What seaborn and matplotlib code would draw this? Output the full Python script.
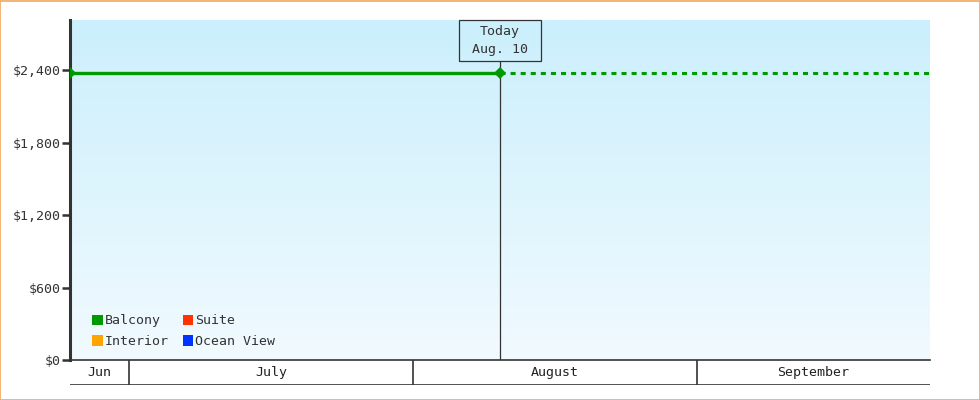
"""
Cabin price tracker: Balcony price up to today, flat projection after
"""
import numpy as np
import pandas as pd
import matplotlib
matplotlib.use('Agg')
import matplotlib.pyplot as plt
from matplotlib.patches import Patch, Rectangle
import seaborn as sns

# Data
price_dates = ['2024-06-24 12:00', '2024-08-10 12:00']
balcony_price = [2375, 2375]
projection_dates = ['2024-08-10 12:00', '2024-09-26 12:00']
projection_price = [2375, 2375]
today = '2024-08-10 12:00'
today_label = 'Today\nAug. 10'
y_ticks = [0, 600, 1200, 1800, 2400]
y_tick_labels = ['$0', '$600', '$1,200', '$1,800', '$2,400']
legend_names = ['Balcony', 'Interior', 'Suite', 'Ocean View']
legend_colors = ['#009900', '#ffa500', '#ff3300', '#0033ff']
month_starts = ['2024-07-01', '2024-08-01', '2024-09-01']
month_names = ['Jun', 'July', 'August', 'September']
x_start, x_end = '2024-06-24 12:00', '2024-09-26 12:00'

sns.set_style('white')
plt.rcParams['font.family'] = ['DejaVu Sans Mono']
plt.rcParams['font.size'] = 9.5

hist = pd.DataFrame({'date': pd.to_datetime(price_dates), 'price': balcony_price})
proj = pd.DataFrame({'date': pd.to_datetime(projection_dates), 'price': projection_price})

fig = plt.figure(figsize=(9.8, 4), dpi=100)
fig.patches.append(Rectangle((0.0005, 0.001), 0.999, 0.997, transform=fig.transFigure,
                             fill=False, edgecolor='#f0a860', linewidth=1.2))
ax = fig.add_axes([70 / 980, 40 / 400, 860 / 980, 340 / 400])

# gradient background
grad = np.linspace(0, 1, 256).reshape(-1, 1)
cmap = matplotlib.colors.LinearSegmentedColormap.from_list('bg', ['#cbeffc', '#f1faff'])
ax.imshow(grad, extent=[0, 1, 0, 1], transform=ax.transAxes, aspect='auto',
          cmap=cmap, zorder=0)

sns.lineplot(data=hist, x='date', y='price', ax=ax, color='#009900', linewidth=2.4,
             marker='D', markersize=6.5, markeredgewidth=0, zorder=3)
sns.lineplot(data=proj, x='date', y='price', ax=ax, color='#009900', linewidth=2.2,
             linestyle=(0, (1.65, 1.65)), zorder=3)

# today marker: line, box and label
today_dt = pd.to_datetime(today)
box_bottom = (360 - 61) / 340
ax.axvline(today_dt, ymin=0, ymax=box_bottom, color='#333333', linewidth=0.9, zorder=2)
half_w = pd.Timedelta(days=4.43)
ax.add_patch(Rectangle((today_dt - half_w, box_bottom), 2 * half_w, 1 - box_bottom,
                       transform=ax.get_xaxis_transform(), fill=False,
                       edgecolor='#333333', linewidth=0.9, zorder=4, clip_on=False))
ax.text(today_dt, (1 + box_bottom) / 2, today_label, ha='center', va='center',
        color='#333333', linespacing=1.45, zorder=4,
        transform=ax.get_xaxis_transform())

ax.set_xlim(pd.to_datetime(x_start), pd.to_datetime(x_end))
ax.set_ylim(0, 2814)
ax.set_yticks(y_ticks)
ax.set_yticklabels(y_tick_labels, color='#333333')
ax.set_xticks([])
ax.set_xlabel('')
ax.set_ylabel('')
ax.tick_params(axis='y', left=True, length=6, width=1.8, color='#333333', pad=1)
for side in ['top', 'right']:
    ax.spines[side].set_visible(False)
ax.spines['left'].set_linewidth(2.2)
ax.spines['left'].set_color('#333333')
ax.spines['bottom'].set_linewidth(1.2)
ax.spines['bottom'].set_color('#333333')

handles = [Patch(facecolor=c, edgecolor='none') for c in legend_colors]
ax.legend(handles, legend_names, ncol=2, loc='lower left', frameon=False,
          bbox_to_anchor=(0.012, 0.0), handlelength=0.8, handleheight=0.8,
          handletextpad=0.15, columnspacing=1.05, labelspacing=0.6, fontsize=9.5,
          labelcolor='#333333')

# month band under the axis
mx = fig.add_axes([70 / 980, 15 / 400, 860 / 980, 25 / 400])
mx.set_xlim(pd.to_datetime(x_start), pd.to_datetime(x_end))
mx.set_ylim(0, 1)
mx.axis('off')
mx.axhline(0, color='#333333', linewidth=1.2)
bounds = [pd.to_datetime(x_start)] + list(pd.to_datetime(month_starts)) + [pd.to_datetime(x_end)]
for m in pd.to_datetime(month_starts):
    mx.axvline(m, color='#333333', linewidth=1.2)
for name, a, b in zip(month_names, bounds[:-1], bounds[1:]):
    mx.text(a + (b - a) / 2, 0.5, name, ha='center', va='center', color='#222222')

plt.savefig('out.png', dpi=100)
print("Saved out.png")
